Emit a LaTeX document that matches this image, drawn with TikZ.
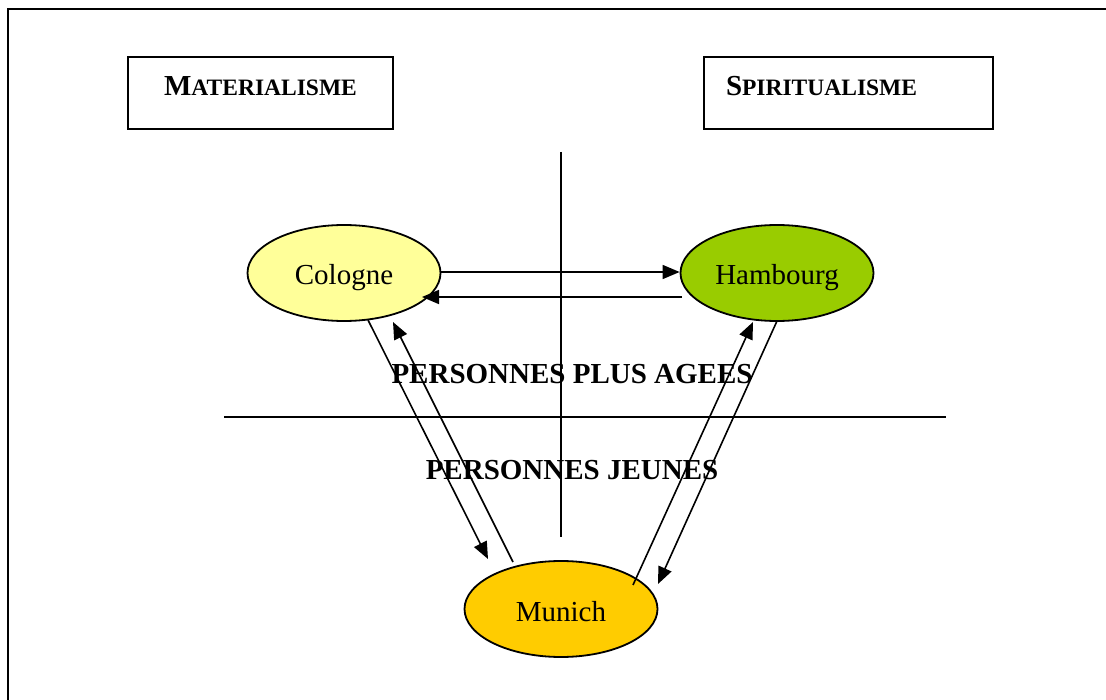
\documentclass[tikz,border=0pt]{standalone}
\usepackage{fontspec}
\setmainfont{Liberation Serif}
\usetikzlibrary{arrows.meta,shapes.geometric}
\definecolor{colfill}{HTML}{FFFF99}
\definecolor{hamfill}{HTML}{99CC00}
\definecolor{munfill}{HTML}{FFCC00}
\newcommand{\bigfs}{\fontsize{29}{34}\selectfont}
\newcommand{\scfs}{\fontsize{23.5}{28}\selectfont}
\tikzset{
  city/.style={ellipse, draw=black, line width=1.8pt, minimum width=193pt, minimum height=96pt, inner sep=0pt, text height=24pt, text depth=0pt, font=\bigfs},
  headbox/.style={rectangle, draw=black, line width=1.8pt, minimum height=72pt, text height=21pt, text depth=15pt, font=\bigfs\bfseries},
  conn/.style={line width=1.6pt, -{Triangle[length=17pt,width=14pt]}},
  divider/.style={line width=1.6pt},
  zone/.style={font=\bigfs\bfseries, inner sep=0pt}
}
\begin{document}
\begin{tikzpicture}[x=1pt,y=-1pt]
\useasboundingbox (0,0) rectangle (1106,700);
% outer frame (open)
\draw[line width=2.6pt] (8,700) -- (8,9) -- (1106,9);
% header boxes
\node[headbox, minimum width=265pt] (mat) at (260.5,93) {M{\scfs ATERIALISME}};
\node[headbox, minimum width=289pt, text width=245pt, inner xsep=22pt, align=left] (spi) at (848.5,93) {S{\scfs PIRITUALISME}};
% dividers
\coordinate (vtop) at (561,152);
\coordinate (vbot) at (561,537);
\coordinate (hl) at (224,417);
\coordinate (hr) at (946,417);
\draw[divider] (vtop) -- (vbot);
\draw[divider] (hl) -- (hr);
% zone labels
\node[zone] (old) at (572,374) {PERSONNES PLUS AGEES};
\node[zone] (young) at (572,470) {PERSONNES JEUNES};
% cities
\node[city, fill=colfill] (col) at (344,273) {Cologne};
\node[city, fill=hamfill] (ham) at (777,273) {Hambourg};
\node[city, fill=munfill] (mun) at (561,609) {Munich};
% connectors
\draw[conn] ([shift={(0,-1)}]col.east) -- ([shift={(0,-1)}]ham.west);
\draw[conn] ([shift={(-95,24)}]ham.center) -- ([shift={(78,24)}]col.center);
\draw[conn] ([shift={(24,47)}]col.center) -- ([shift={(-73,-50)}]mun.center);
\draw[conn] ([shift={(-48,-47)}]mun.center) -- ([shift={(49,49)}]col.center);
\draw[conn] ([shift={(72,-24)}]mun.center) -- ([shift={(-24,49)}]ham.center);
\draw[conn] ([shift={(0,48)}]ham.center) -- ([shift={(97,-25)}]mun.center);
\end{tikzpicture}
\end{document}
